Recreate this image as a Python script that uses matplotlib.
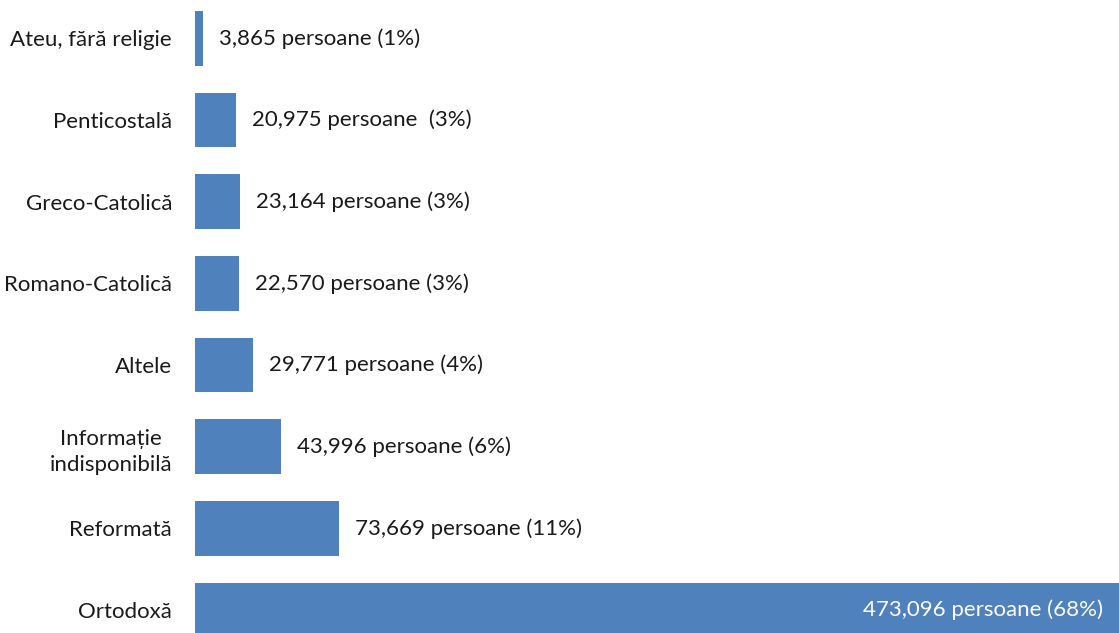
import matplotlib.pyplot as plt

religii = ["Ortodoxă", "Reformată", "Informație\nindisponibilă", "Altele",
           "Romano-Catolică", "Greco-Catolică", "Penticostală", "Ateu, fără religie"]
persoane = [473096, 73669, 43996, 29771, 22570, 23164, 20975, 3865]
etichete = ["473,096 persoane (68%)", "73,669 persoane (11%)", "43,996 persoane (6%)",
            "29,771 persoane (4%)", "22,570 persoane (3%)", "23,164 persoane (3%)",
            "20,975 persoane  (3%)", "3,865 persoane (1%)"]

plt.rcParams['font.family'] = ['Lato', 'DejaVu Sans']

fig = plt.figure(figsize=(11.19, 6.33), dpi=100)
ax = fig.add_axes([195 / 1119, 0, 924 / 1119, 1])

y = list(range(len(religii)))
ax.barh(y, persoane, height=0.67, color="#4F81BD")
ax.set_xlim(0, max(persoane))
ax.set_ylim(-0.28, 7.47)

for i, (v, t) in enumerate(zip(persoane, etichete)):
    if v == max(persoane):
        ax.annotate(t, (v, i), xytext=(-16, 0), textcoords="offset pixels",
                    ha="right", va="center", color="white", fontsize=16)
    else:
        ax.annotate(t, (v, i), xytext=(16, 0), textcoords="offset pixels",
                    ha="left", va="center", color="#1a1a1a", fontsize=16)

ax.set_yticks(y)
ax.set_yticklabels(religii, fontsize=16, color="#1a1a1a")
ax.tick_params(axis="y", length=0, pad=16.5)
for lbl in ax.get_yticklabels():
    lbl.set_multialignment("center")
    lbl.set_linespacing(1.4)
ax.set_xticks([])
for s in ax.spines.values():
    s.set_visible(False)

fig.savefig("out.png", dpi=100)
